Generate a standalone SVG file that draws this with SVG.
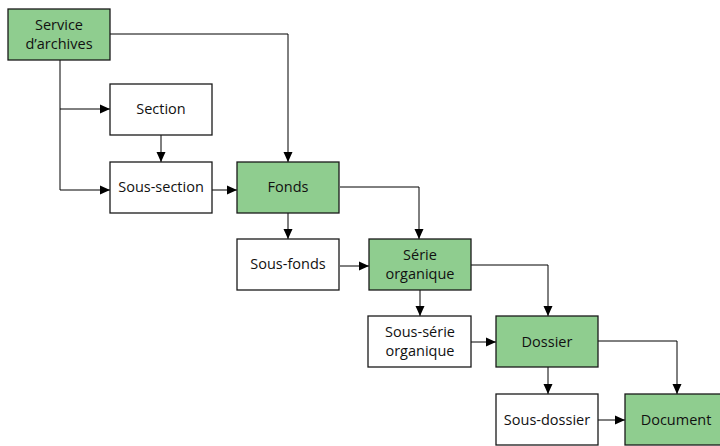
<svg xmlns="http://www.w3.org/2000/svg" width="720" height="446" viewBox="0 0 720 446">
<defs>
<marker id="ah" markerWidth="10" markerHeight="10" refX="10" refY="5" orient="auto" markerUnits="userSpaceOnUse">
<path d="M0,0.5 L10,5 L0,9.5 Z" fill="#000"/>
</marker>
<style>
.g{fill:#8fcd8f;stroke:#1a1a1a;stroke-width:1.3}
.w{fill:#fff;stroke:#1a1a1a;stroke-width:1.3}
.t{font-family:"Open Sans","Noto Sans",sans-serif;font-size:14.5px;fill:#111;text-anchor:middle}
.c{fill:none;stroke:#000;stroke-width:1;marker-end:url(#ah)}
</style>
</defs>
<rect width="720" height="446" fill="#fff"/>
<g id="connectors">
<path class="c" d="M110,34 H288 V162"/>
<path class="c" d="M60,60 V190 H110"/>
<path class="c" d="M60,109 H110"/>
<path class="c" d="M161,135 V162"/>
<path class="c" d="M212,190 H237"/>
<path class="c" d="M288,213 V239"/>
<path class="c" d="M340,187 H419 V239"/>
<path class="c" d="M340,266 H369"/>
<path class="c" d="M420,290 V316"/>
<path class="c" d="M471,265 H548 V316"/>
<path class="c" d="M471,342 H496"/>
<path class="c" d="M548,367 V394"/>
<path class="c" d="M598,341 H677 V394"/>
<path class="c" d="M598,420 H625"/>
</g>
<g id="service"><rect class="g" x="8" y="9" width="102" height="51"/><text class="t" x="59" y="30">Service</text><text class="t" x="59" y="49">d’archives</text></g>
<g id="section"><rect class="w" x="110" y="84" width="102" height="51"/><text class="t" x="161" y="114">Section</text></g>
<g id="sous-section"><rect class="w" x="110" y="162" width="102" height="51"/><text class="t" x="161" y="192">Sous-section</text></g>
<g id="fonds"><rect class="g" x="237" y="162" width="102" height="51"/><text class="t" x="288" y="192">Fonds</text></g>
<g id="sous-fonds"><rect class="w" x="237" y="239" width="102" height="51"/><text class="t" x="288" y="269">Sous-fonds</text></g>
<g id="serie"><rect class="g" x="369" y="239" width="102" height="51"/><text class="t" x="420" y="260">Série</text><text class="t" x="420" y="279">organique</text></g>
<g id="sous-serie"><rect class="w" x="368" y="316" width="103" height="51"/><text class="t" x="420" y="337">Sous-série</text><text class="t" x="420" y="356">organique</text></g>
<g id="dossier"><rect class="g" x="496" y="316" width="102" height="51"/><text class="t" x="547" y="347">Dossier</text></g>
<g id="sous-dossier"><rect class="w" x="496" y="394" width="102" height="51"/><text class="t" x="547" y="425">Sous-dossier</text></g>
<g id="document"><rect class="g" x="625" y="394" width="102" height="51"/><text class="t" x="676" y="425">Document</text></g>
</svg>
